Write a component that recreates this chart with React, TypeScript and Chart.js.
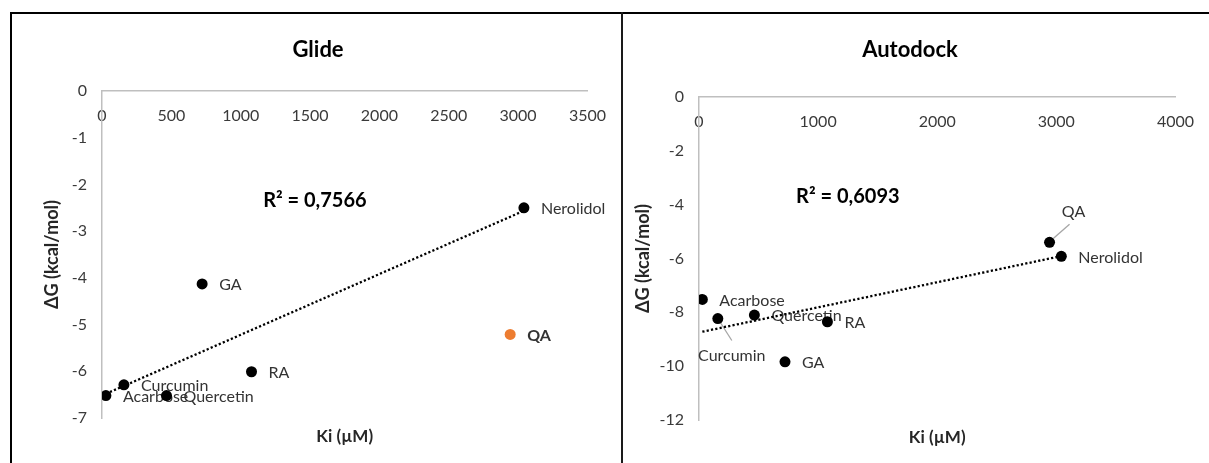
import React, { useEffect, useRef } from "react";
import { Chart, registerables } from "chart.js";

Chart.register(...registerables);

// ---------------- data ----------------
const compounds = ["Acarbose", "Curcumin", "Quercetin", "GA", "RA", "QA", "Nerolidol"];
const kiValues = [28, 158, 465, 722, 1078, 2943, 3042];
const glideDeltaG = [-6.52, -6.29, -6.52, -4.13, -6.01, -5.21, -2.5];
const autodockDeltaG = [-7.52, -8.23, -8.1, -9.84, -8.35, -5.4, -5.92];
const glideHighlighted = ["QA"]; // orange series, not part of the trend
const autodockHighlighted: string[] = [];
const glideXTicks = [0, 500, 1000, 1500, 2000, 2500, 3000, 3500];
const glideYTicks = [0, -1, -2, -3, -4, -5, -6, -7];
const autodockXTicks = [0, 1000, 2000, 3000, 4000];
const autodockYTicks = [0, -2, -4, -6, -8, -10, -12];
const glideR2 = "R² = 0,7566";
const autodockR2 = "R² = 0,6093";
const xAxisTitle = "Ki (µM)";
const yAxisTitle = "ΔG (kcal/mol)";

const FONT = "Lato, 'Open Sans', sans-serif";
const ORANGE = "#ED7D31";

function trendEnds(xs: number[], ys: number[]) {
  const n = xs.length;
  const mx = xs.reduce((a, b) => a + b, 0) / n;
  const my = ys.reduce((a, b) => a + b, 0) / n;
  let sxy = 0;
  let sxx = 0;
  for (let i = 0; i < n; i++) {
    sxy += (xs[i] - mx) * (ys[i] - my);
    sxx += (xs[i] - mx) * (xs[i] - mx);
  }
  const slope = sxy / sxx;
  const b = my - slope * mx;
  const lo = Math.min(...xs);
  const hi = Math.max(...xs);
  return [
    { x: lo, y: b + slope * lo },
    { x: hi, y: b + slope * hi },
  ];
}

type Special = { dx: number; dy: number; align: CanvasTextAlign; leader?: number[] };

type Spec = {
  title: string;
  titleSize: number;
  titlePad: { top: number; bottom: number };
  yValues: number[];
  highlighted: string[];
  xTicks: number[];
  yTicks: number[];
  r2: string;
  r2At: { x: number; y: number };
  padding: { left: number; right: number };
  yAxisWidth: number;
  yTitlePad: number;
  rightWidth: number;
  bottomHeight: number;
  xTitlePad: number;
  special: Record<string, Special>;
  boldNames: string[];
};

function buildConfig(spec: Spec): any {
  const mainIdx = compounds.map((_, i) => i).filter((i) => !spec.highlighted.includes(compounds[i]));
  const hiIdx = compounds.map((_, i) => i).filter((i) => spec.highlighted.includes(compounds[i]));
  const mainPts = mainIdx.map((i) => ({ x: kiValues[i], y: spec.yValues[i] }));
  const hiPts = hiIdx.map((i) => ({ x: kiValues[i], y: spec.yValues[i] }));
  const trend = trendEnds(
    mainIdx.map((i) => kiValues[i]),
    mainIdx.map((i) => spec.yValues[i])
  );
  const xTicks = spec.xTicks;
  const yTicks = spec.yTicks;
  const tickColor = "#3a3a3a";
  const axisColor = "#bfbfbf";

  const labelPlugin = {
    id: "pointLabelsInline",
    beforeDatasetsDraw(chart: any) {
      const ctx = chart.ctx;
      ctx.save();
      chart.data.datasets.forEach((ds: any, di: number) => {
        const names: string[] | undefined = ds.pointNames;
        if (!names) return;
        const meta = chart.getDatasetMeta(di);
        meta.data.forEach((el: any, i: number) => {
          const name = names[i];
          const sp = spec.special[name];
          const bold = spec.boldNames.includes(name);
          ctx.font = `${bold ? "bold " : ""}16px ${FONT}`;
          ctx.fillStyle = "#333333";
          ctx.textBaseline = "middle";
          if (sp) {
            if (sp.leader) {
              ctx.strokeStyle = "#a6a6a6";
              ctx.lineWidth = 1.3;
              ctx.beginPath();
              ctx.moveTo(el.x + sp.leader[0], el.y + sp.leader[1]);
              ctx.lineTo(el.x + sp.leader[2], el.y + sp.leader[3]);
              ctx.stroke();
            }
            ctx.textAlign = sp.align;
            ctx.fillText(name, el.x + sp.dx, el.y + sp.dy);
          } else {
            ctx.textAlign = "left";
            ctx.fillText(name, el.x + 17, el.y + 1);
          }
        });
      });
      const xs = chart.scales.x;
      const ys = chart.scales.y;
      ctx.font = `bold 20px ${FONT}`;
      ctx.fillStyle = "#000000";
      ctx.textAlign = "center";
      ctx.textBaseline = "middle";
      ctx.fillText(spec.r2, xs.getPixelForValue(spec.r2At.x), ys.getPixelForValue(spec.r2At.y));
      ctx.restore();
    },
  };

  return {
    type: "scatter",
    data: {
      datasets: [
        {
          label: "main",
          data: mainPts,
          pointNames: mainIdx.map((i) => compounds[i]),
          backgroundColor: "#000000",
          borderColor: "#000000",
          pointRadius: 5.5,
          pointHoverRadius: 5.5,
          pointBorderWidth: 0,
          showLine: false,
          xAxisID: "x",
          yAxisID: "y",
          order: 1,
        },
        {
          label: "highlight",
          data: hiPts,
          pointNames: hiIdx.map((i) => compounds[i]),
          backgroundColor: ORANGE,
          borderColor: ORANGE,
          pointRadius: 5.5,
          pointBorderWidth: 0,
          showLine: false,
          xAxisID: "x",
          yAxisID: "y",
          order: 1,
        },
        {
          type: "line",
          label: "trend",
          data: trend,
          borderColor: "#000000",
          borderWidth: 2.3,
          borderDash: [2.2, 2.2],
          pointRadius: 0,
          fill: false,
          showLine: true,
          xAxisID: "x",
          yAxisID: "y",
          order: 2,
        },
      ],
    },
    options: {
      animation: false,
      responsive: false,
      maintainAspectRatio: false,
      devicePixelRatio: 1,
      events: [],
      layout: { padding: { left: spec.padding.left, right: spec.padding.right, top: 0, bottom: 0 } },
      plugins: {
        legend: { display: false },
        tooltip: { enabled: false },
        title: {
          display: true,
          text: spec.title,
          color: "#000000",
          font: { family: FONT, size: spec.titleSize, weight: "bold" },
          padding: spec.titlePad,
        },
      },
      scales: {
        x: {
          type: "linear",
          position: { y: 0 },
          min: xTicks[0],
          max: xTicks[xTicks.length - 1],
          afterBuildTicks: (s: any) => {
            s.ticks = xTicks.map((v) => ({ value: v }));
          },
          ticks: {
            color: tickColor,
            font: { family: FONT, size: 16 },
            padding: 15,
            maxRotation: 0,
            autoSkip: false,
            callback: (v: any) => String(v),
          },
          grid: { display: false, drawTicks: false },
          border: { display: true, color: axisColor, width: 1.5 },
        },
        y: {
          type: "linear",
          position: "left",
          min: yTicks[yTicks.length - 1],
          max: yTicks[0],
          afterBuildTicks: (s: any) => {
            s.ticks = yTicks.map((v) => ({ value: v }));
          },
          ticks: {
            color: tickColor,
            font: { family: FONT, size: 16 },
            padding: 15,
            autoSkip: false,
            callback: (v: any) => String(v),
          },
          grid: { display: false, drawTicks: false },
          border: { display: true, color: axisColor, width: 1.5 },
          title: {
            display: true,
            text: yAxisTitle,
            color: "#262626",
            font: { family: FONT, size: 18, weight: "bold" },
            padding: { top: spec.yTitlePad, bottom: 0 },
          },
          afterFit: (s: any) => {
            s.width = spec.yAxisWidth;
          },
        },
        xTitleAxis: {
          type: "linear",
          axis: "x",
          position: "bottom",
          min: 0,
          max: 1,
          ticks: { display: false },
          grid: { display: false, drawTicks: false },
          border: { display: false },
          title: {
            display: true,
            text: xAxisTitle,
            color: "#262626",
            font: { family: FONT, size: 17, weight: "bold" },
            padding: { top: 0, bottom: spec.xTitlePad },
          },
          afterFit: (s: any) => {
            s.height = spec.bottomHeight;
          },
        },
        yRightSpace: {
          type: "linear",
          axis: "y",
          position: "right",
          min: 0,
          max: 1,
          ticks: { display: false },
          grid: { display: false, drawTicks: false },
          border: { display: false },
          afterFit: (s: any) => {
            s.width = spec.rightWidth;
          },
        },
      },
    },
    plugins: [labelPlugin],
  };
}

const glideSpec: Spec = {
  title: "Glide",
  titleSize: 22,
  titlePad: { top: 23, bottom: 27.6 },
  yValues: glideDeltaG,
  highlighted: glideHighlighted,
  xTicks: glideXTicks,
  yTicks: glideYTicks,
  r2: glideR2,
  r2At: { x: 1535, y: -2.34 },
  padding: { left: 3, right: 0 },
  yAxisWidth: 87,
  yTitlePad: 26,
  rightWidth: 31,
  bottomHeight: 45,
  xTitlePad: 16,
  special: {},
  boldNames: ["QA"],
};

const autodockSpec: Spec = {
  title: "Autodock",
  titleSize: 22,
  titlePad: { top: 23, bottom: 33.6 },
  yValues: autodockDeltaG,
  highlighted: autodockHighlighted,
  xTicks: autodockXTicks,
  yTicks: autodockYTicks,
  r2: autodockR2,
  r2At: { x: 1250, y: -3.71 },
  padding: { left: 0, right: 12 },
  yAxisWidth: 76,
  yTitlePad: 9,
  rightWidth: 7,
  bottomHeight: 43,
  xTitlePad: 15,
  special: {
    QA: { dx: 24, dy: -31, align: "center", leader: [4, -4, 20, -18] },
    Curcumin: { dx: 14, dy: 37, align: "center", leader: [0, 0, 14, 22] },
  },
  boldNames: [],
};

function ChartCanvas({ spec, left, width }: { spec: Spec; left: number; width: number }) {
  const ref = useRef<HTMLCanvasElement | null>(null);
  useEffect(() => {
    if (!ref.current) return;
    const chart = new Chart(ref.current, buildConfig(spec));
    return () => chart.destroy();
  }, [spec]);
  return (
    <canvas
      ref={ref}
      width={width}
      height={449}
      style={{ position: "absolute", left, top: 14, width, height: 449 }}
    />
  );
}

export default function App() {
  return (
    <div
      style={{
        position: "absolute",
        left: 0,
        top: 0,
        width: 1209,
        height: 463,
        overflow: "hidden",
        background: "#ffffff",
      }}
    >
      <div style={{ position: "absolute", left: 10, top: 12, width: 1199, height: 2, background: "#000" }} />
      <div style={{ position: "absolute", left: 10, top: 12, width: 2, height: 451, background: "#000" }} />
      <div style={{ position: "absolute", left: 621, top: 12, width: 2, height: 451, background: "#1a1a1a" }} />
      <ChartCanvas spec={glideSpec} left={12} width={609} />
      <ChartCanvas spec={autodockSpec} left={623} width={586} />
    </div>
  );
}
